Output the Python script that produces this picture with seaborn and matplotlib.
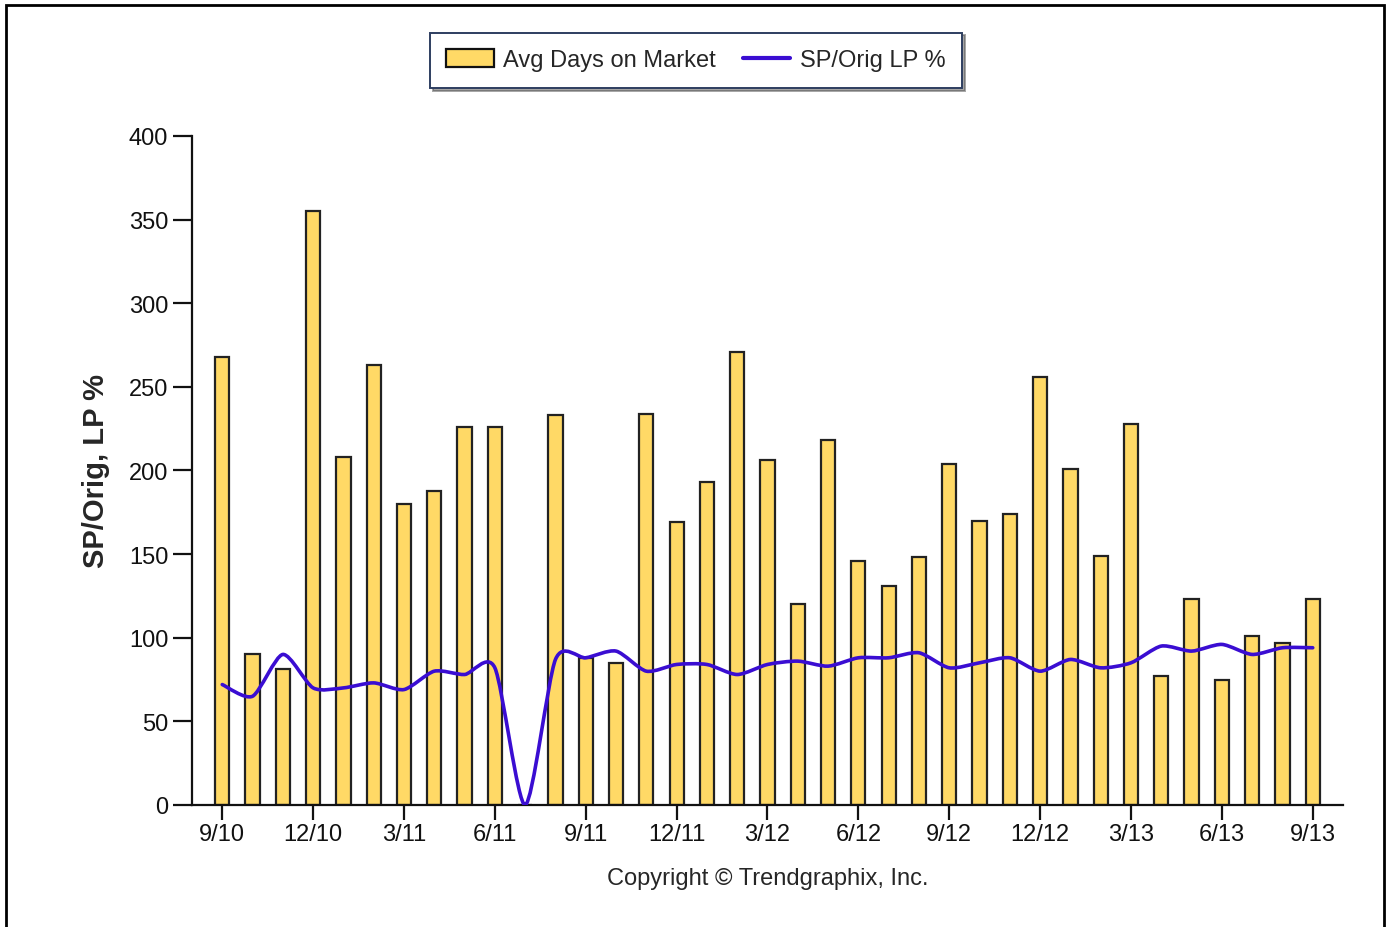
import numpy as np
import pandas as pd
import matplotlib
matplotlib.use('Agg')
import matplotlib.pyplot as plt
import seaborn as sns
from matplotlib.path import Path
from matplotlib.patches import PathPatch, Patch, Rectangle
from matplotlib.lines import Line2D

# ================================================
# Data
# ================================================
months = ['9/10', '10/10', '11/10', '12/10', '1/11', '2/11', '3/11', '4/11',
          '5/11', '6/11', '7/11', '8/11', '9/11', '10/11', '11/11', '12/11',
          '1/12', '2/12', '3/12', '4/12', '5/12', '6/12', '7/12', '8/12',
          '9/12', '10/12', '11/12', '12/12', '1/13', '2/13', '3/13', '4/13',
          '5/13', '6/13', '7/13', '8/13', '9/13']

avg_days = [268, 90, 81, 355, 208, 263, 180, 188, 226, 226, 0, 233, 88, 85,
            234, 169, 193, 271, 206, 120, 218, 146, 131, 148, 204, 170, 174,
            256, 201, 149, 228, 77, 123, 75, 101, 97, 123]

sp_orig_lp = [72, 65, 90, 70, 70, 73, 69, 80, 78, 82, 0, 87, 88, 92, 80, 84,
              84, 78, 84, 86, 83, 88, 88, 91, 82, 85, 88, 80, 87, 82, 85, 95,
              92, 96, 90, 94, 94]

tick_labels = months[::3]

bar_color = '#FFD966'
line_color = '#3A0DD2'

df = pd.DataFrame({'month': months, 'days': avg_days, 'pct': sp_orig_lp})

# ================================================
# Setup
# ================================================
sns.set_style('ticks')
plt.rcParams['font.family'] = ['Liberation Sans', 'DejaVu Sans']

fig = plt.figure(figsize=(13.86, 9.28), dpi=100)
ax = fig.add_axes([0.1385, 0.1315, 0.8305, 0.7209])

sns.barplot(data=df, x='month', y='days', color=bar_color, saturation=1,
            width=0.47, edgecolor='#222222', linewidth=1.6, ax=ax)

# smooth line through the points (cardinal spline as cubic bezier)
tension = 0.75
xs = np.arange(len(sp_orig_lp), dtype=float)
ys = np.array(sp_orig_lp, dtype=float)
pts = np.column_stack([xs, ys])
ext = np.vstack([pts[0], pts, pts[-1]])
verts = [tuple(pts[0])]
codes = [Path.MOVETO]
for i in range(1, len(ext) - 2):
    p0, p1, p2, p3 = ext[i - 1], ext[i], ext[i + 1], ext[i + 2]
    c1 = p1 + tension * (p2 - p0) / 6
    c2 = p2 - tension * (p3 - p1) / 6
    verts += [tuple(c1), tuple(c2), tuple(p2)]
    codes += [Path.CURVE4] * 3
ax.add_patch(PathPatch(Path(verts, codes), facecolor='none',
                       edgecolor=line_color, linewidth=2.6, zorder=5,
                       capstyle='round', joinstyle='round'))

# ================================================
# Axes styling
# ================================================
ax.set_xlim(-1, 37)
ax.set_ylim(0, 400)
ax.set_yticks(range(0, 401, 50))
ax.set_xticks(range(0, len(months), 3))
ax.set_xticklabels(tick_labels)
ax.tick_params(axis='both', labelsize=17, colors='#111111', width=1.6,
               direction='out')
ax.tick_params(axis='y', length=14, pad=3)
ax.tick_params(axis='x', length=11, pad=2)
for s in ['top', 'right']:
    ax.spines[s].set_visible(False)
for s in ['left', 'bottom']:
    ax.spines[s].set_linewidth(1.6)
    ax.spines[s].set_color('#111111')

ax.set_ylabel('SP/Orig, LP %', fontsize=21, fontweight='bold', labelpad=14)
ax.set_xlabel('Copyright \u00a9 Trendgraphix, Inc.', fontsize=17,
              labelpad=16)

handles = [Patch(facecolor=bar_color, edgecolor='#111111', linewidth=1.6),
           Line2D([0], [0], color=line_color, linewidth=3)]
leg = fig.legend(handles, ['Avg Days on Market', 'SP/Orig LP %'],
                 loc='center', bbox_to_anchor=(0.502, 0.934), ncol=2,
                 fontsize=17, frameon=True, fancybox=False, shadow=True,
                 handlelength=2.0, handleheight=0.8, columnspacing=1.15,
                 borderpad=0.7, handletextpad=0.4)
leg.get_frame().set_edgecolor('#2E3E60')
leg.get_frame().set_linewidth(1.4)

fig.add_artist(Rectangle((0.004, -0.01), 0.9945, 1.004,
                         transform=fig.transFigure, fill=False,
                         edgecolor='black', linewidth=2))

plt.savefig('out.png', dpi=100)
